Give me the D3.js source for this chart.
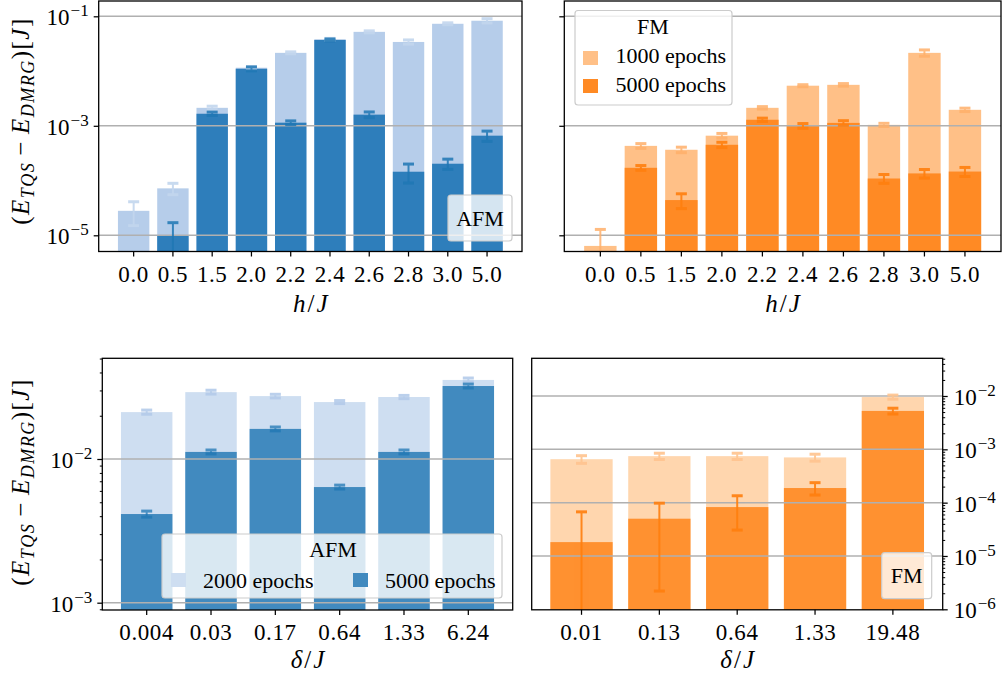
<!DOCTYPE html>
<html>
<head>
<meta charset="utf-8">
<script src="https://cdn.jsdelivr.net/npm/d3@7"></script>
<style>
  body { margin: 0; background: #fff; }
  svg { display: block; }
</style>
</head>
<body>
<svg id="chart" width="1005" height="681"></svg>
<script>
// ---------------- data ----------------
// transverse field h/J
const hLabels = ["0.0", "0.5", "1.5", "2.0", "2.2", "2.4", "2.6", "2.8", "3.0", "5.0"];
// AFM, shorter training (light) and 5000 epochs (dark)
const afmHShort    = [2.8e-5, 7.2e-5, 2.13e-3, 1.15e-2, 2.15e-2, 3.8e-2, 5.2e-2, 3.4e-2, 7.3e-2, 8.3e-2];
const afmHShortErr = [1.3e-5, 1.7e-5, 1.5e-4, 4.6e-4, 9e-4, 1.5e-3, 2.2e-3, 3e-3, 3e-3, 7.5e-3];
const afmHLong     = [null, 1.0e-5, 1.66e-3, 1.1e-2, 1.14e-3, 3.7e-2, 1.6e-3, 1.45e-4, 2.03e-4, 6.6e-4];
const afmHLongErr  = [null, 7e-6, 1.2e-4, 9e-4, 9e-5, 1.5e-3, 1.9e-4, 5.5e-5, 4.3e-5, 1.4e-4];
// FM, 1000 epochs (light) and 5000 epochs (dark)
const fmH1000      = [6.4e-6, 4.3e-4, 3.65e-4, 6.6e-4, 2.13e-3, 5.4e-3, 5.6e-3, 1.04e-3, 2.15e-2, 1.96e-3];
const fmH1000Err   = [6.4e-6, 4.3e-5, 4.2e-5, 6.5e-5, 1.1e-4, 2.3e-4, 3e-4, 7e-5, 2.8e-3, 1.4e-4];
const fmH5000      = [null, 1.71e-4, 4.4e-5, 4.5e-4, 1.29e-3, 1.0e-3, 1.13e-3, 1.09e-4, 1.35e-4, 1.46e-4];
const fmH5000Err   = [null, 1.7e-5, 1.33e-5, 5e-5, 9e-5, 1e-4, 1.1e-4, 2e-5, 2.4e-5, 2.75e-5];

// anisotropy delta/J
const deltaAfmLabels = ["0.004", "0.03", "0.17", "0.64", "1.33", "6.24"];
const afmD2000     = [0.0212, 0.0292, 0.0274, 0.0249, 0.0270, 0.0355];
const afmD2000Err  = [7e-4, 9e-4, 8e-4, 6e-4, 7e-4, 1.1e-3];
const afmD5000     = [4.14e-3, 0.0112, 0.0162, 6.38e-3, 0.0112, 0.0322];
const afmD5000Err  = [2e-4, 3.5e-4, 5e-4, 2e-4, 3.5e-4, 1e-3];

const deltaFmLabels = ["0.01", "0.13", "0.64", "1.33", "19.48"];
const fmD1000      = [6.53e-4, 7.45e-4, 7.45e-4, 7.05e-4, 9.55e-3];
const fmD1000Err   = [1.07e-4, 1.0e-4, 1.0e-4, 1.05e-4, 8.5e-4];
const fmD5000      = [1.82e-5, 5.0e-5, 8.26e-5, 1.88e-4, 5.25e-3];
const fmD5000Err   = [4.9e-5, 4.78e-5, 5.2e-5, 4.9e-5, 6.5e-4];

// ---------------- drawing ----------------
const SERIF = "'Liberation Serif', 'DejaVu Serif', serif";
const svg = d3.select("#chart");
const TICK_FONT = 23;

function powLabel(sel, d, anchor) {
  const e = Math.round(Math.log10(d));
  sel.text(null).attr("text-anchor", anchor);
  sel.append("tspan").text("10");
  sel.append("tspan").attr("font-size", 17).attr("dx", 1).attr("dy", -9).text("\u2212" + Math.abs(e));
}

function drawPanel(p) {
  const g = svg.append("g");
  const n = p.cats.length;
  const x = d3.scaleBand().domain(p.cats).range([p.x0, p.x1])
    .paddingInner(0.2).paddingOuter(0.05 * (n - 0.2));
  const y = d3.scaleLog().domain(p.yDom).range(p.yRange);

  const clipId = "clip-" + p.id;
  svg.append("clipPath").attr("id", clipId).append("rect")
    .attr("x", p.x0).attr("y", p.y0).attr("width", p.x1 - p.x0).attr("height", p.y1 - p.y0);
  const plot = g.append("g").attr("clip-path", `url(#${clipId})`);

  // bars
  p.series.forEach(s => {
    const rows = p.cats.map((c, i) => ({ c, v: s.values[i] })).filter(d => d.v != null);
    plot.append("g").selectAll("rect").data(rows).join("rect")
      .attr("x", d => x(d.c)).attr("width", x.bandwidth())
      .attr("y", d => y(d.v)).attr("height", d => Math.max(0, p.y1 - y(d.v)))
      .attr("fill", s.color);
  });

  // grid lines (above the bars)
  plot.append("g").selectAll("line").data(p.grid).join("line")
    .attr("x1", p.x0).attr("x2", p.x1)
    .attr("y1", d => y(d)).attr("y2", d => y(d))
    .attr("stroke", "#b0b0b0").attr("stroke-width", 1.5);

  // error bars
  p.series.forEach(s => {
    p.cats.forEach((c, i) => {
      const v = s.values[i], e = s.errors[i];
      if (v == null || e == null) return;
      const cx = x(c) + x.bandwidth() / 2;
      const yHi = y(v + e);
      const lo = v - e;
      const yLo = lo > 0 ? y(lo) : p.y1 + 10;
      const eb = plot.append("g").attr("opacity", s.errOpacity).attr("stroke", s.errColor);
      eb.append("line").attr("x1", cx).attr("x2", cx).attr("y1", yLo).attr("y2", yHi).attr("stroke-width", 2);
      eb.append("line").attr("x1", cx - 5.5).attr("x2", cx + 5.5).attr("y1", yHi).attr("y2", yHi).attr("stroke-width", 3);
      if (lo > 0) {
        eb.append("line").attr("x1", cx - 5.5).attr("x2", cx + 5.5).attr("y1", yLo).attr("y2", yLo).attr("stroke-width", 3);
      }
    });
  });

  // x axis
  const xa = g.append("g").attr("transform", `translate(0,${p.y1})`)
    .call(d3.axisBottom(x).tickSize(5).tickPadding(8));
  xa.attr("font-family", SERIF).attr("font-size", TICK_FONT);
  xa.select(".domain").remove();
  xa.selectAll(".tick line").attr("stroke", "#000").attr("stroke-width", 1.25);
  xa.selectAll(".tick text").attr("dy", "0.75em").attr("letter-spacing", 0.6);

  // y axis
  const inRange = d => { const yy = y(d); return yy >= p.y0 - 0.6 && yy <= p.y1 + 0.6; };
  const right = p.ySide === "right";
  const axisFn = right ? d3.axisRight : d3.axisLeft;
  const xPos = right ? p.x1 : p.x0;
  const ya = g.append("g").attr("transform", `translate(${xPos},0)`)
    .call(axisFn(y).tickValues(p.yMajors.filter(inRange)).tickSize(5).tickPadding(right ? 6 : 5).tickFormat(() => ""));
  ya.attr("font-family", SERIF).attr("font-size", TICK_FONT);
  ya.select(".domain").remove();
  ya.selectAll(".tick line").attr("stroke", "#000").attr("stroke-width", 1.25);
  if (p.yLabels) {
    ya.selectAll(".tick text").each(function (d) {
      const t = d3.select(this).attr("dy", 8.5);
      powLabel(t, d, right ? "start" : "end");
    });
  } else {
    ya.selectAll(".tick text").remove();
  }
  if (p.yMinors.length) {
    const ym = g.append("g").attr("transform", `translate(${xPos},0)`)
      .call(axisFn(y).tickValues(p.yMinors.filter(inRange)).tickSize(2.5).tickFormat(() => ""));
    ym.select(".domain").remove();
    ym.selectAll(".tick text").remove();
    ym.selectAll(".tick line").attr("stroke", "#000").attr("stroke-width", 1);
  }

  // frame
  g.append("rect").attr("x", p.x0).attr("y", p.y0)
    .attr("width", p.x1 - p.x0).attr("height", p.y1 - p.y0)
    .attr("fill", "none").attr("stroke", "#000").attr("stroke-width", 1.3);

  // x label
  const xl = g.append("text").attr("x", (p.x0 + p.x1) / 2).attr("y", p.xLabelY)
    .attr("text-anchor", "middle").attr("font-size", 25).attr("font-style", "italic");
  xl.append("tspan").text(p.xSymbol);
  xl.append("tspan").attr("font-style", "normal").attr("dx", 2).text("/");
  xl.append("tspan").attr("dx", 2).text("J");

  return { g, x, y };
}

function yTitle(cx, cy) {
  const t = svg.append("text").attr("transform", `translate(${cx},${cy}) rotate(-90)`)
    .attr("text-anchor", "middle").attr("font-size", 25).attr("letter-spacing", 1.5);
  t.append("tspan").text("(");
  t.append("tspan").attr("font-style", "italic").text("E");
  t.append("tspan").attr("font-style", "italic").attr("font-size", 18).attr("dy", 5).text("TQS");
  t.append("tspan").attr("dy", -5).attr("dx", 6).text("\u2212");
  t.append("tspan").attr("dx", 6).attr("font-style", "italic").text("E");
  t.append("tspan").attr("font-style", "italic").attr("font-size", 18).attr("dy", 5).text("DMRG");
  t.append("tspan").attr("dy", -5).text(")[");
  t.append("tspan").attr("font-style", "italic").text("J");
  t.append("tspan").text("]");
}

function legendBox(b) {
  svg.append("rect").attr("x", b.x).attr("y", b.y).attr("width", b.w).attr("height", b.h)
    .attr("rx", 3).attr("fill", "#fff").attr("fill-opacity", 0.8)
    .attr("stroke", "#cccccc").attr("stroke-width", 1.2);
}

const decades = (a, b) => d3.range(a, b + 1).map(e => Math.pow(10, e));
const minorsBetween = (a, b) => {
  const out = [];
  for (let e = a; e <= b; e++) for (let k = 2; k <= 9; k++) out.push(k * Math.pow(10, e));
  return out;
};

// colours
const C = {
  blueDarkTop: "#2e7ebb", blueLightTop: "#b6cdea",
  orangeDarkTop: "#ff8a24", orangeLightTop: "#ffc087",
  blueDarkBot: "#418abf", blueLightBot: "#cedef1",
  orangeDarkBot: "#ff9130", orangeLightBot: "#ffd6ae"
};
const LEG_FONT = 22;

// ---- top left: AFM vs h/J ----
drawPanel({
  id: "tl", x0: 98.7, x1: 522, y0: 1, y1: 251.5,
  yDom: [1e-5, 1e-1], yRange: [235.3, 16.3],
  cats: hLabels, grid: [1e-5, 1e-3, 1e-1],
  yMajors: [1e-5, 1e-3, 1e-1], yMinors: [], ySide: "left", yLabels: true,
  xSymbol: "h", xLabelY: 312,
  series: [
    { values: afmHShort, errors: afmHShortErr, color: C.blueLightTop, errColor: "#c3d6ee", errOpacity: 0.9 },
    { values: afmHLong, errors: afmHLongErr, color: C.blueDarkTop, errColor: "#1f77b4", errOpacity: 0.85 }
  ]
});
yTitle(29, 121);
legendBox({ x: 448, y: 195, w: 64, h: 46 });
svg.append("text").attr("x", 480).attr("y", 226).attr("text-anchor", "middle").attr("font-size", LEG_FONT).text("AFM");

// ---- top right: FM vs h/J ----
drawPanel({
  id: "tr", x0: 564.3, x1: 1001, y0: 1, y1: 251.5,
  yDom: [1e-5, 1e-1], yRange: [235.3, 16.3],
  cats: hLabels, grid: [1e-5, 1e-3, 1e-1],
  yMajors: [1e-5, 1e-3, 1e-1], yMinors: [], ySide: "left", yLabels: false,
  xSymbol: "h", xLabelY: 312,
  series: [
    { values: fmH1000, errors: fmH1000Err, color: C.orangeLightTop, errColor: "#ffb06a", errOpacity: 0.85 },
    { values: fmH5000, errors: fmH5000Err, color: C.orangeDarkTop, errColor: "#ff7f0e", errOpacity: 0.9 }
  ]
});
legendBox({ x: 575, y: 10.5, w: 157, h: 94.5 });
svg.append("text").attr("x", 653).attr("y", 34).attr("text-anchor", "middle").attr("font-size", LEG_FONT).text("FM");
[["1000 epochs", C.orangeLightTop, 51, 63], ["5000 epochs", C.orangeDarkTop, 79, 92]].forEach(([lab, col, py, ty]) => {
  svg.append("rect").attr("x", 583).attr("y", py).attr("width", 15).attr("height", 14).attr("fill", col);
  svg.append("text").attr("x", 615.5).attr("y", ty).attr("font-size", LEG_FONT).text(lab);
});

// ---- bottom left: AFM vs delta/J ----
drawPanel({
  id: "bl", x0: 102.3, x1: 512.7, y0: 358.3, y1: 610,
  yDom: [1e-3, 1e-2], yRange: [602.7, 459],
  cats: deltaAfmLabels, grid: [1e-3, 1e-2],
  yMajors: [1e-3, 1e-2], yMinors: minorsBetween(-4, -2), ySide: "left", yLabels: true,
  xSymbol: "\u03b4", xLabelY: 668,
  series: [
    { values: afmD2000, errors: afmD2000Err, color: C.blueLightBot, errColor: "#b4cbea", errOpacity: 0.9 },
    { values: afmD5000, errors: afmD5000Err, color: C.blueDarkBot, errColor: "#1f77b4", errOpacity: 0.75 }
  ]
});
yTitle(29, 482);
legendBox({ x: 162, y: 534, w: 340, h: 64 });
svg.append("text").attr("x", 333).attr("y", 557).attr("text-anchor", "middle").attr("font-size", LEG_FONT).text("AFM");
[["2000 epochs", C.blueLightBot, 171, 203], ["5000 epochs", C.blueDarkBot, 353, 385]].forEach(([lab, col, px, tx]) => {
  svg.append("rect").attr("x", px).attr("y", 573).attr("width", 15).attr("height", 14).attr("fill", col);
  svg.append("text").attr("x", tx).attr("y", 588).attr("font-size", LEG_FONT).text(lab);
});

// ---- bottom right: FM vs delta/J ----
drawPanel({
  id: "br", x0: 531.7, x1: 942.7, y0: 358.3, y1: 609.8,
  yDom: [1e-6, 1e-2], yRange: [609.3, 396],
  cats: deltaFmLabels, grid: [1e-5, 1e-4, 1e-3, 1e-2],
  yMajors: decades(-6, -2), yMinors: minorsBetween(-6, -2), ySide: "right", yLabels: true,
  xSymbol: "\u03b4", xLabelY: 668,
  series: [
    { values: fmD1000, errors: fmD1000Err, color: C.orangeLightBot, errColor: "#ffc48f", errOpacity: 0.9 },
    { values: fmD5000, errors: fmD5000Err, color: C.orangeDarkBot, errColor: "#ff7f0e", errOpacity: 0.9 }
  ]
});
legendBox({ x: 881.7, y: 552.7, w: 50, h: 46 });
svg.append("text").attr("x", 906.7).attr("y", 583).attr("text-anchor", "middle").attr("font-size", LEG_FONT).text("FM");

// one serif family for every label
svg.selectAll("text").attr("font-family", SERIF).style("font-family", SERIF).attr("fill", "#000");
</script>
</body>
</html>
